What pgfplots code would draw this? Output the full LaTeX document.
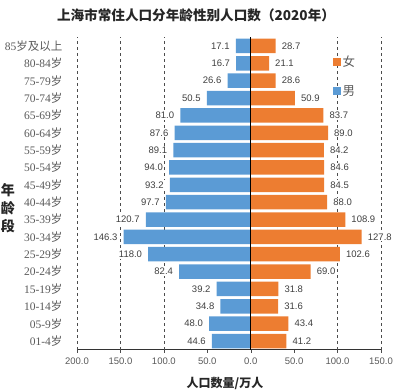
\documentclass[border=0pt]{standalone}
\usepackage{pgfplots}
\pgfplotsset{compat=1.18}
\usepackage{pgfplotstable}
\usepackage{fontspec}
\setmainfont{Liberation Sans}
\newfontfamily\cjk{Noto Sans CJK SC}
\newfontfamily\lserif{Liberation Serif}
\definecolor{myblue}{HTML}{5B9BD5}
\definecolor{myorange}{HTML}{ED7D31}
\definecolor{lbl}{HTML}{404040}
\definecolor{tkl}{HTML}{595959}
\newcommand\yl[2]{{\lserif #1}{\cjk #2}}
\pgfplotstableread{
idx male female
17 17.1 28.7
16 16.7 21.1
15 26.6 28.6
14 50.5 50.9
13 81.0 83.7
12 87.6 89.0
11 89.1 84.2
10 94.0 84.6
9 93.2 84.5
8 97.7 88.0
7 120.7 108.9
6 146.3 127.8
5 118.0 102.6
4 82.4 69.0
3 39.2 31.8
2 34.8 31.6
1 48.0 43.4
0 44.6 41.2
}\data
\begin{document}
\begin{tikzpicture}
\useasboundingbox (-77pt,-41.3pt) rectangle (323pt,349.7pt);
\begin{axis}[
  at={(0pt,0pt)}, anchor=south west,
  scale only axis, width=304pt, height=312.4pt,
  xmin=-200, xmax=150, ymin=-0.5, ymax=17.5,
  /pgf/number format/assume math mode=true,
  axis x line*=bottom, axis y line*=left,
  y axis line style={draw=none},
  x axis line style={draw=black!80, line width=0.8pt},
  xtick={-200,-150,-100,-50,0,50,100,150},
  xticklabels={200.0,150.0,100.0,50.0,0.0,50.0,100.0,150.0},
  xticklabel style={font=\fontsize{9.5}{10}\selectfont, text=tkl, yshift=-2pt},
  tick align=outside, major tick length=3pt,
  xtick style={draw=black!70},
  extra x ticks={-200,-150,-100,100,150},
  extra x tick labels={},
  extra x tick style={grid=major, major grid style={dashed, black!70, line width=0.6pt}},
  ytick={0,...,17},
  yticklabels={\yl{01-4}{岁},\yl{05-9}{岁},\yl{10-14}{岁},\yl{15-19}{岁},\yl{20-24}{岁},\yl{25-29}{岁},\yl{30-34}{岁},\yl{35-39}{岁},\yl{40-44}{岁},\yl{45-49}{岁},\yl{50-54}{岁},\yl{55-59}{岁},\yl{60-64}{岁},\yl{65-69}{岁},\yl{70-74}{岁},\yl{75-79}{岁},\yl{80-84}{岁},\yl{85}{岁及以上}},
  yticklabel style={font=\fontsize{11.5}{12}\selectfont, text=tkl, xshift=-8pt},
  ytick style={draw=none},
  xbar, bar width=14.5pt, bar shift=0pt,
  nodes near coords={\pgfmathprintnumber[fixed,fixed zerofill,precision=1,assume math mode=true]{\pgfplotspointmeta}},
  nodes near coords style={font=\fontsize{9.5}{10}\selectfont, text=lbl, fill=white, inner sep=1pt},
  point meta=explicit,
  reverse legend,
  legend style={at={(rel axis cs:0.83,0.955)}, anchor=north west, draw=none, fill=none,
    row sep=14pt, font=\cjk\fontsize{12.5}{12.5}\selectfont, text=tkl},
  legend cell align=left,
  legend image code/.code={\fill[#1,draw=none] (0pt,-4pt) rectangle (8pt,4pt);},
]
\addplot[fill=myblue, draw=none, nodes near coords align={left},
  nodes near coords style={xshift=-5pt}]
  table[x expr=-\thisrow{male}, y=idx, meta=male] {\data};
\addlegendentry{男}
\addplot[fill=myorange, draw=none, nodes near coords align={right},
  nodes near coords style={xshift=5pt}]
  table[x=female, y=idx, meta=female] {\data};
\addlegendentry{女}
\draw[black, line width=0.8pt] (axis cs:0,-0.5) -- (axis cs:0,17.5);
\end{axis}
\node[font=\cjk\bfseries\fontsize{13.6}{14}\selectfont, text=black!85] at (119pt,334.7pt) {上海市常住人口分年龄性别人口数（2020年）};
\node[font=\cjk\bfseries\fontsize{14}{18}\selectfont, text=black!85, align=center] at (-69pt,141.7pt) {年\\龄\\段};
\node[font=\cjk\bfseries\fontsize{12}{12}\selectfont, text=black!85] at (148pt,-34pt) {人口数量/万人};
\end{tikzpicture}
\end{document}
